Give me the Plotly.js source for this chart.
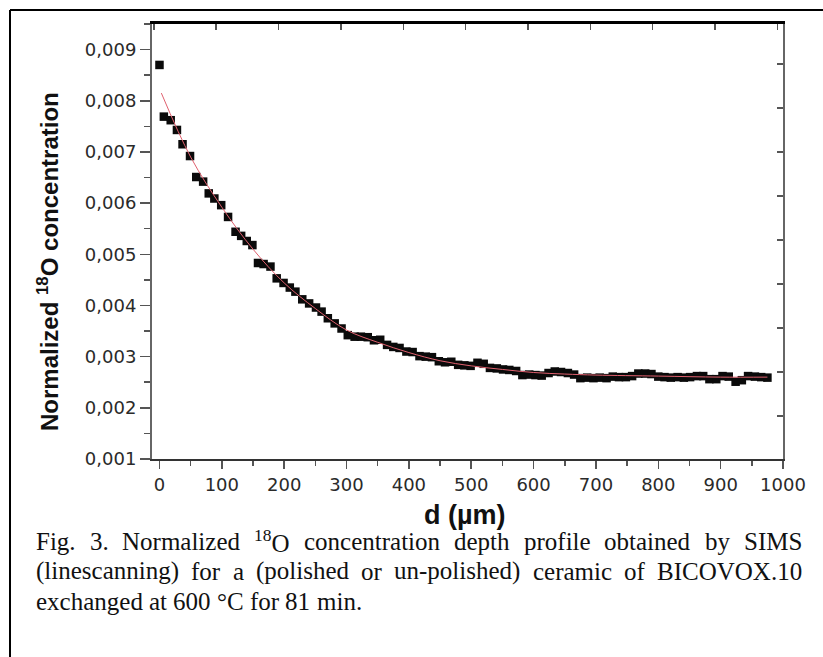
<!DOCTYPE html>
<html><head><meta charset="utf-8">
<script src="https://cdn.plot.ly/plotly-3.0.1.min.js"></script>
<style>html,body{margin:0;padding:0;background:#fff;} #chart{width:823px;height:657px;}</style>
</head><body><div id="chart"></div>
<script>
// ---- data ----
const depthUm = [0, 7, 18, 28, 37, 49, 59, 70, 79, 88, 99, 110, 122, 131, 140, 149, 158, 167, 178, 188,
  199, 209, 218, 229, 240, 251, 260, 270, 281, 292, 302, 313,
  323, 334, 344, 354, 365, 375, 385, 396, 406, 417, 427, 437, 448, 458, 468, 479, 489, 499,
  510, 520, 530, 541, 551, 561, 572, 582, 593, 603, 613, 624, 634, 644, 655, 665, 675, 686,
  696, 706, 717, 727, 737, 748, 758, 768, 779, 789, 800, 810, 820, 831, 841, 851, 862, 872,
  882, 893, 903, 913, 924, 934, 944, 955, 965, 975];
const concNorm = [0.00870, 0.00769, 0.00762, 0.00743, 0.00715, 0.00692, 0.00651, 0.00642, 0.00619, 0.00609,
  0.00596, 0.00573, 0.00544, 0.00536, 0.00526, 0.00518, 0.00483, 0.00481, 0.00476, 0.00453,
  0.00444, 0.00435, 0.00427, 0.00412, 0.00404, 0.00396, 0.00388, 0.00375, 0.00365, 0.00355, 0.00342, 0.00339,
  0.00339, 0.00338, 0.00332, 0.00333, 0.00323, 0.00319, 0.00317, 0.00310, 0.00309, 0.00301,
  0.00300, 0.00299, 0.00291, 0.00289, 0.00290, 0.00284, 0.00283, 0.00282, 0.00288, 0.00286,
  0.00278, 0.00277, 0.00275, 0.00274, 0.00272, 0.00264, 0.00265, 0.00264, 0.00263, 0.00268,
  0.00271, 0.00270, 0.00268, 0.00265, 0.00258, 0.00259, 0.00258, 0.00259, 0.00258, 0.00261,
  0.00260, 0.00260, 0.00262, 0.00267, 0.00267, 0.00266, 0.00261, 0.00260, 0.00259, 0.00260,
  0.00259, 0.00260, 0.00262, 0.00262, 0.00256, 0.00256, 0.00262, 0.00261, 0.00251, 0.00254,
  0.00262, 0.00261, 0.00260, 0.00259];
const fitDepthUm = [3, 50, 100, 150, 200, 250, 300, 350, 400, 450, 500, 550, 600, 650, 700, 800, 900, 975];
const fitConc = [0.00815, 0.00690, 0.00592, 0.00510, 0.00444, 0.00394, 0.00352, 0.00328, 0.00308, 0.00292,
  0.00282, 0.00275, 0.00269, 0.00266, 0.00264, 0.00262, 0.00260, 0.00260];
const xTickVals = [0, 100, 200, 300, 400, 500, 600, 700, 800, 900, 1000];
const yTickVals = [0.001, 0.002, 0.003, 0.004, 0.005, 0.006, 0.007, 0.008, 0.009];
const topTickVals = [-9, 91, 191, 291, 391, 491, 591, 691, 791, 891, 991];
const rightTickVals = [0.00184, 0.00270, 0.00356, 0.00442, 0.00528, 0.00614, 0.00700, 0.00786, 0.00872];
const xAxisTitle = 'd (µm)';
const yAxisTitle = 'Normalized <sup>18</sup>O concentration';
const captionLines = [
  ['Fig.', '3.', 'Normalized', '<sup>18</sup>O', 'concentration', 'depth', 'profile', 'obtained', 'by', 'SIMS'],
  ['(linescanning)', 'for', 'a', '(polished', 'or', 'un-polished)', 'ceramic', 'of', 'BICOVOX.10'],
  ['exchanged', 'at', '600', '°C', 'for', '81', 'min.']
];
const captionJustified = [true, true, false];

// ---- layout geometry (pixels) ----
const W = 823, H = 657;
const L = 152, R = 783, T = 24, B = 459;
const px2x = p => (p - L) / (R - L);
const py2y = p => (B - p) / (B - T);

const capFamily = 'Liberation Serif';
const capSize = 25;
const capLeft = 35, capRight = 801;
const captionY = [541, 571, 601];

const ctx = document.createElement('canvas').getContext('2d');
function measureWord(w) {
  const m = w.match(/^<sup>(.*)<\/sup>(.*)$/);
  ctx.font = capSize + 'px "' + capFamily + '"';
  if (m) {
    const rest = ctx.measureText(m[2]).width;
    ctx.font = (capSize * 0.7) + 'px "' + capFamily + '"';
    return ctx.measureText(m[1]).width + rest;
  }
  return ctx.measureText(w).width;
}
ctx.font = capSize + 'px "' + capFamily + '"';
const spaceW = ctx.measureText(' ').width;

const annotations = [];
captionLines.forEach((words, li) => {
  const widths = words.map(measureWord);
  const total = widths.reduce((a, b) => a + b, 0);
  const gap = captionJustified[li] ? (capRight - capLeft - total) / (words.length - 1) : spaceW;
  let cx = capLeft;
  words.forEach((w, wi) => {
    annotations.push({
      text: w, xref: 'paper', yref: 'paper', x: px2x(cx - 1), y: py2y(captionY[li]),
      xanchor: 'left', yanchor: 'middle', showarrow: false,
      font: {family: capFamily + ', Times New Roman, serif', size: capSize, color: '#111'}
    });
    cx += widths[wi] + gap;
  });
});
annotations.push({
  text: '<b>' + yAxisTitle + '</b>', xref: 'paper', yref: 'paper',
  x: px2x(48), y: py2y(262), textangle: -90, xanchor: 'center', yanchor: 'middle', showarrow: false,
  font: {family: 'Liberation Sans, Arial, sans-serif', size: 24, color: '#111'}
});
annotations.push({
  text: '<b>' + xAxisTitle + '</b>', xref: 'paper', yref: 'paper',
  x: px2x(465), y: py2y(515), xanchor: 'center', yanchor: 'middle', showarrow: false,
  font: {family: 'Liberation Sans, Arial, sans-serif', size: 27, color: '#111'}
});

const shapes = [
  {type: 'line', xref: 'paper', yref: 'paper', x0: px2x(10), x1: px2x(823), y0: py2y(10), y1: py2y(10), line: {color: '#000', width: 2}},
  {type: 'line', xref: 'paper', yref: 'paper', x0: px2x(10), x1: px2x(10), y0: py2y(10), y1: py2y(657), line: {color: '#000', width: 2}}
];

const traces = [
  {x: depthUm, y: concNorm, type: 'scatter', mode: 'markers',
   marker: {symbol: 'square', size: 8.5, color: '#0a0a0a'}, hoverinfo: 'skip', showlegend: false},
  {x: fitDepthUm, y: fitConc, type: 'scatter', mode: 'lines',
   line: {color: '#e0606e', width: 1, shape: 'spline', smoothing: 1}, hoverinfo: 'skip', showlegend: false},
  {x: [null], y: [null], xaxis: 'x2', yaxis: 'y2', type: 'scatter', mode: 'markers', hoverinfo: 'skip', showlegend: false}
];

const tickFont = {family: 'DejaVu Sans, sans-serif', size: 18, color: '#2a2a2a'};
const layout = {
  width: W, height: H,
  margin: {l: L, r: W - R, t: T, b: H - B, pad: 0},
  paper_bgcolor: '#fff', plot_bgcolor: '#fff',
  separators: ', ',
  showlegend: false,
  xaxis: {range: [-12, 1000], tickmode: 'array', tickvals: xTickVals, ticktext: xTickVals.map(String),
    ticks: 'outside', ticklen: 8, tickwidth: 1.5, tickcolor: '#555',
    minor: {ticks: 'outside', ticklen: 5, tickwidth: 1.5, tickcolor: '#555', tickmode: 'linear', tick0: 50, dtick: 100},
    showline: true, linecolor: '#333', linewidth: 2, showgrid: false, zeroline: false,
    tickfont: tickFont, anchor: 'y'},
  yaxis: {range: [0.001, 0.0095], tickmode: 'array', tickvals: yTickVals, tickformat: '.3f',
    ticks: 'outside', ticklen: 10, tickwidth: 1.5, tickcolor: '#555',
    minor: {ticks: 'outside', ticklen: 6, tickwidth: 1.5, tickcolor: '#555', tickmode: 'linear', tick0: 0.0015, dtick: 0.001},
    showline: true, linecolor: '#666', linewidth: 2, showgrid: false, zeroline: false,
    tickfont: tickFont, anchor: 'x'},
  xaxis2: {range: [-12, 1000], overlaying: 'x', side: 'top', anchor: 'y', tickmode: 'array', tickvals: topTickVals,
    ticks: 'inside', ticklen: 6, tickwidth: 1.5, tickcolor: '#555', showticklabels: false,
    showline: true, linecolor: '#000', linewidth: 3, showgrid: false, zeroline: false},
  yaxis2: {range: [0.001, 0.0095], overlaying: 'y', side: 'right', anchor: 'x', tickmode: 'array', tickvals: rightTickVals,
    ticks: 'inside', ticklen: 6, tickwidth: 1.5, tickcolor: '#555', showticklabels: false,
    showline: true, linecolor: '#666', linewidth: 2, showgrid: false, zeroline: false},
  annotations: annotations,
  shapes: shapes
};

Plotly.newPlot('chart', traces, layout, {staticPlot: true, displayModeBar: false});
</script>
</body></html>
